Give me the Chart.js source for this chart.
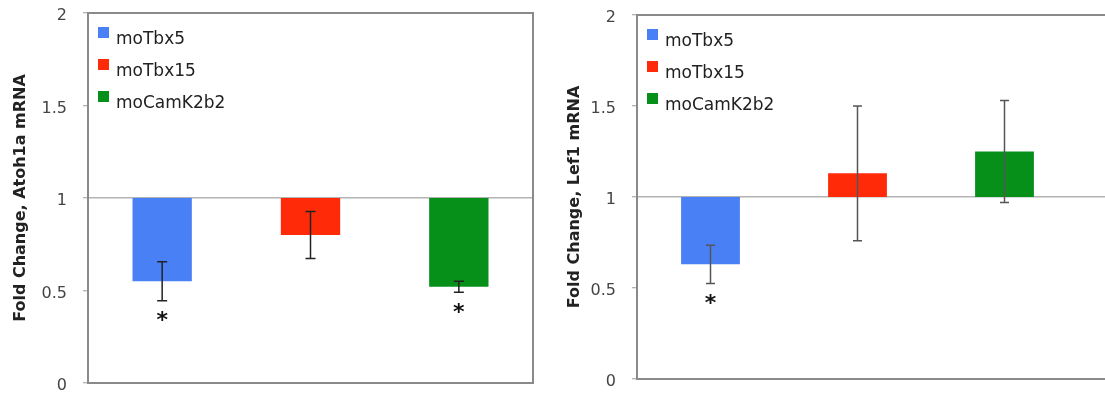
<!DOCTYPE html>
<html><head><meta charset="utf-8">
<script src="https://cdn.jsdelivr.net/npm/chart.js@4"></script>
<style>
html,body{margin:0;padding:0;background:#fff;overflow:hidden;width:1105px;height:394px;position:relative;}
canvas{position:absolute;top:0;}
#c1{left:0px}
#c2{left:550px}
</style></head><body>
<canvas id="c1" width="545" height="394"></canvas>
<canvas id="c2" width="680" height="394"></canvas>
<script>
// ---- data ----
const categories = ['moTbx5', 'moTbx15', 'moCamK2b2'];
const barColors = ['#4a80f6', '#ff2b08', '#06901a'];
const yTicks = [0, 0.5, 1, 1.5, 2];
const yTickLabels = ['0', '0.5', '1', '1.5', '2'];
const baseline = 1;

const atohTitle = 'Fold Change, Atoh1a mRNA';
const atohValues = [0.55, 0.80, 0.52];
const atohErrors = [0.105, 0.127, 0.03];
const atohSignificant = [true, false, true];

const lefTitle = 'Fold Change, Lef1 mRNA';
const lefValues = [0.63, 1.13, 1.25];
const lefErrors = [0.105, 0.37, 0.28];
const lefSignificant = [true, false, false];

const FONT = '"DejaVu Sans", Verdana, sans-serif';

const overlay = {
  id: 'overlay',
  afterDatasetsDraw(chart, args, o) {
    const {ctx, chartArea: a, scales: {x, y}} = chart;
    ctx.save();
    // error bars + asterisks
    o.values.forEach((v, i) => {
      const px = x.getPixelForValue(i);
      const hi = y.getPixelForValue(v + o.errors[i]);
      const lo = y.getPixelForValue(v - o.errors[i]);
      ctx.strokeStyle = o.errColor;
      ctx.lineWidth = 1.5;
      ctx.beginPath();
      ctx.moveTo(px, hi); ctx.lineTo(px, lo);
      ctx.moveTo(px - o.cap, hi); ctx.lineTo(px + o.cap, hi);
      ctx.moveTo(px - o.cap, lo); ctx.lineTo(px + o.cap, lo);
      ctx.stroke();
      if (o.sig[i]) {
        ctx.fillStyle = '#111';
        ctx.font = 'bold 22px ' + FONT;
        ctx.textAlign = 'center';
        ctx.textBaseline = 'alphabetic';
        ctx.fillText('*', px, lo + 14 + 0.57 * 22);
      }
    });
    // frame
    ctx.strokeStyle = '#8a8a8a';
    ctx.lineWidth = 2;
    ctx.strokeRect(a.left, a.top, a.right - a.left, a.bottom - a.top);
    // legend
    ctx.font = '17px ' + FONT;
    ctx.textAlign = 'left';
    ctx.textBaseline = 'alphabetic';
    categories.forEach((c, i) => {
      const top = a.top + 14 + i * 32;
      ctx.fillStyle = barColors[i];
      ctx.fillRect(a.left + 10, top, 11, 11);
      ctx.fillStyle = '#222';
      ctx.fillText(c, a.left + 28, top + 17);
    });
    ctx.restore();
  }
};

function makeChart(id, title, values, errors, sig, xMax, yWidth, pad, titlePad, errColor, cap) {
  return new Chart(document.getElementById(id), {
    type: 'bar',
    data: {
      datasets: [{
        data: values.map((v, i) => ({x: i, y: [baseline, v]})),
        backgroundColor: barColors,
        borderWidth: 0,
        barPercentage: 0.4,
        categoryPercentage: 1
      }]
    },
    options: {
      responsive: false,
      animation: false,
      devicePixelRatio: 1,
      layout: {padding: pad},
      plugins: {
        legend: {display: false},
        tooltip: {enabled: false},
        overlay: {values, errors, sig, errColor, cap}
      },
      scales: {
        x: {
          type: 'linear', min: -0.5, max: xMax, display: false, offset: false,
          grid: {offset: false},
          afterBuildTicks: s => { s.ticks = categories.map((c, i) => ({value: i})); }
        },
        y: {
          min: 0, max: 2,
          afterBuildTicks: s => { s.ticks = yTicks.map(v => ({value: v})); },
          ticks: {
            font: {family: FONT, size: 16}, color: '#444', padding: 16, labelOffset: 3,
            callback: v => yTickLabels[yTicks.indexOf(v)]
          },
          grid: {
            color: c => (c.tick && c.tick.value === baseline) ? '#b3b3b3' : 'rgba(0,0,0,0)',
            lineWidth: 1.5, tickColor: '#9a9a9a', tickWidth: 1, tickLength: 5, drawTicks: true
          },
          border: {display: false},
          title: {display: true, text: title, font: {family: FONT, size: 16, weight: 'bold'},
                  color: '#222', padding: {top: titlePad, bottom: 0}},
          afterFit: s => { s.width = yWidth; s.paddingTop = 0; s.paddingBottom = 0; }
        }
      }
    },
    plugins: [overlay]
  });
}

makeChart('c1', atohTitle, atohValues, atohErrors, atohSignificant, 2.5, 88,
  {left: 0, right: 12, top: 13, bottom: 11}, 11, '#222', 5);
makeChart('c2', lefTitle, lefValues, lefErrors, lefSignificant, 3.5, 87,
  {left: 0, right: 5, top: 15, bottom: 15}, 15, '#555', 4.5);
</script>
</body></html>
